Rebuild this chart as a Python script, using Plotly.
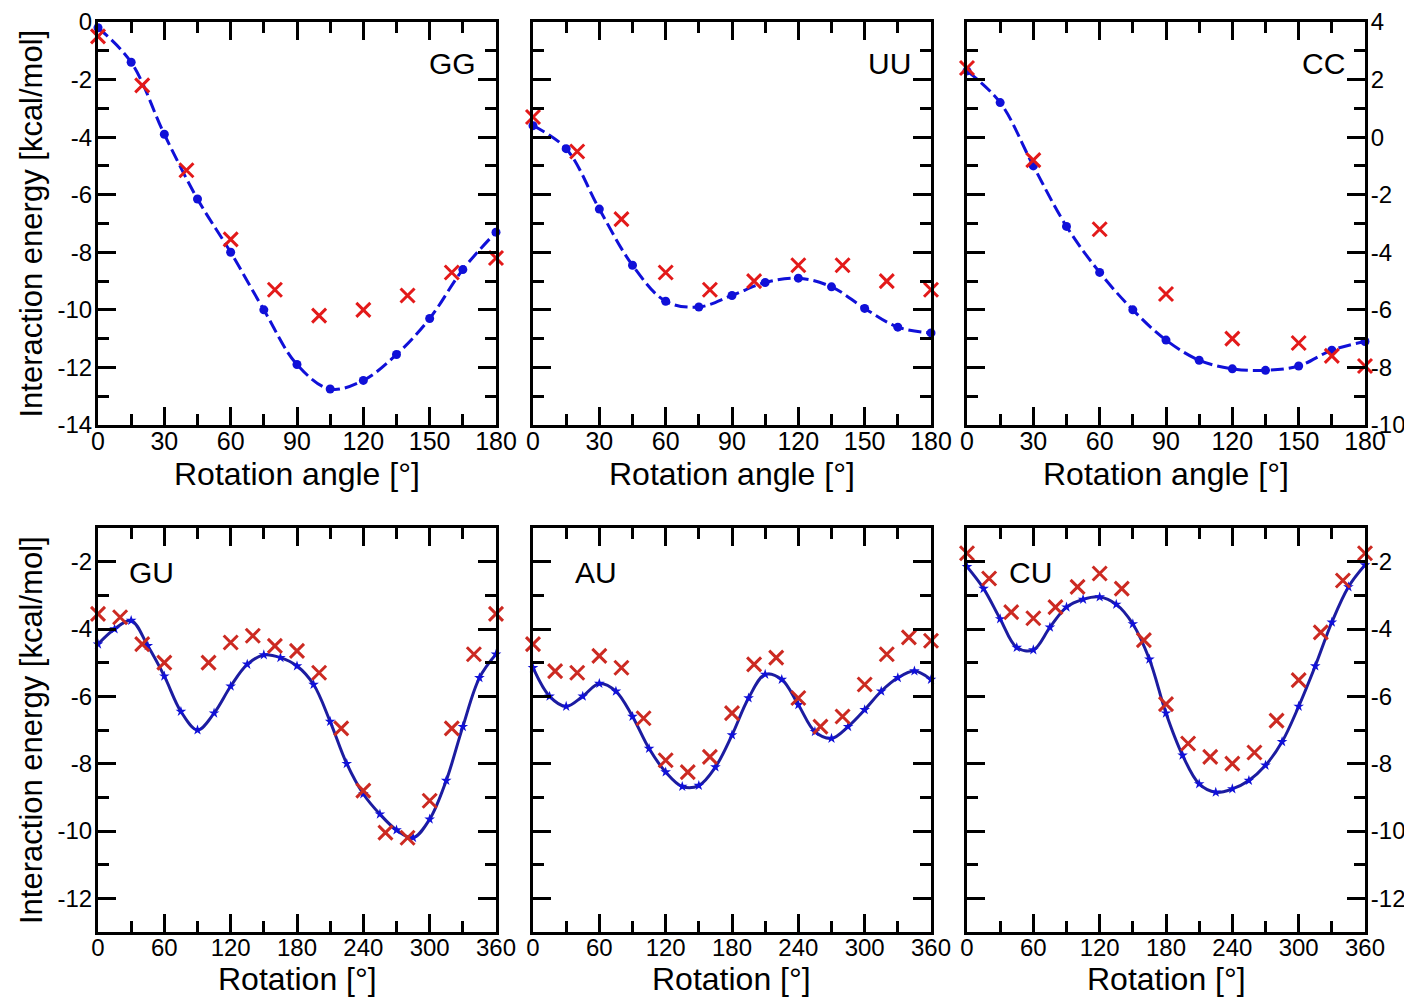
import plotly.graph_objects as go

W, H = 1412, 997
OFF = 8  # the page body margin shifts the figure by 8 px

# ---------------- data ----------------
# top row: rotation angle 0..180
top_blue_x = [0, 15, 30, 45, 60, 75, 90, 105, 120, 135, 150, 165, 180]
GG_blue = [-0.2, -1.4, -3.9, -6.15, -8.0, -10.0, -11.9, -12.75, -12.45, -11.55, -10.3, -8.6, -7.3]
UU_blue = [-3.6, -4.4, -6.5, -8.45, -9.7, -9.9, -9.5, -9.05, -8.9, -9.2, -9.95, -10.6, -10.8]
CC_blue = [2.3, 1.2, -1.0, -3.1, -4.7, -6.0, -7.05, -7.75, -8.05, -8.1, -7.95, -7.4, -7.1]

top_red_x = [0, 20, 40, 60, 80, 100, 120, 140, 160, 180]
GG_red = [-0.5, -2.2, -5.15, -7.55, -9.3, -10.2, -10.0, -9.5, -8.7, -8.2]
UU_red = [-3.3, -4.5, -6.85, -8.7, -9.3, -9.0, -8.45, -8.45, -9.0, -9.3]
CC_red_x = [0, 30, 60, 90, 120, 150, 165, 180]
CC_red = [2.4, -0.8, -3.2, -5.45, -7.0, -7.15, -7.6, -7.95]

# bottom row: rotation 0..360
bot_blue_x = list(range(0, 361, 15))
GU_blue = [-4.45, -4.0, -3.75, -4.5, -5.4, -6.45, -7.0, -6.5, -5.7, -5.05, -4.77, -4.85, -5.1,
           -5.65, -6.75, -8.0, -8.9, -9.5, -9.97, -10.2, -9.65, -8.5, -6.9, -5.45, -4.75]
AU_blue = [-5.15, -6.0, -6.3, -6.0, -5.62, -5.85, -6.6, -7.55, -8.25, -8.68, -8.65, -8.1, -7.15,
           -6.05, -5.35, -5.5, -6.25, -7.05, -7.25, -6.9, -6.4, -5.85, -5.45, -5.25, -5.5]
CU_blue = [-2.15, -2.8, -3.7, -4.55, -4.62, -3.95, -3.35, -3.12, -3.05, -3.27, -3.85, -4.9, -6.5,
           -7.75, -8.6, -8.85, -8.75, -8.5, -8.05, -7.35, -6.3, -5.1, -3.8, -2.75, -2.1]

GU_red_x = [0, 20, 40, 60, 100, 120, 140, 160, 180, 200, 220, 240, 260, 280, 300, 320, 340, 360]
GU_red = [-3.55, -3.65, -4.45, -5.0, -5.0, -4.4, -4.2, -4.5, -4.65, -5.3, -6.95, -8.8, -10.05,
          -10.2, -9.1, -6.95, -4.75, -3.55]
bot_red_x = list(range(0, 361, 20))
AU_red = [-4.45, -5.25, -5.3, -4.8, -5.15, -6.65, -7.9, -8.25, -7.8, -6.5, -5.05, -4.85, -6.05,
          -6.9, -6.6, -5.65, -4.75, -4.25, -4.35]
CU_red = [-1.75, -2.5, -3.5, -3.68, -3.35, -2.75, -2.35, -2.8, -4.33, -6.23, -7.4, -7.8, -8.0,
          -7.67, -6.72, -5.52, -4.1, -2.56, -1.75]

top_xticks = [0, 30, 60, 90, 120, 150, 180]
bot_xticks = [0, 60, 120, 180, 240, 300, 360]
top_yticks_left = [0, -2, -4, -6, -8, -10, -12, -14]
top_yticks_right = [4, 2, 0, -2, -4, -6, -8, -10]
bot_yticks = [-2, -4, -6, -8, -10, -12]

# ---------------- styling ----------------
BLUE = "#1010d8"
NAVY = "#1c1ca0"
RED_TOP = "#e31a1a"
RED_BOT = "#cc2a22"
FONT = "Liberation Sans, Arial, sans-serif"

# panel frames in screen pixels (reference), converted to figure pixels below
cols_px = [(98, 496), (533, 931), (967, 1365)]
rows_px = [(22, 425), (528, 932)]


def fx(px):
    return (px - OFF) / W


def fy(py):
    return 1 - (py - OFF) / H


def lbl(v):
    return str(v)  # plain hyphen-minus, as in the reference


panels = [
    dict(name="GG", row=0, col=0, bx=top_blue_x, by=GG_blue, rx=top_red_x, ry=GG_red),
    dict(name="UU", row=0, col=1, bx=top_blue_x, by=UU_blue, rx=top_red_x, ry=UU_red),
    dict(name="CC", row=0, col=2, bx=top_blue_x, by=CC_blue, rx=CC_red_x, ry=CC_red),
    dict(name="GU", row=1, col=0, bx=bot_blue_x, by=GU_blue, rx=GU_red_x, ry=GU_red),
    dict(name="AU", row=1, col=1, bx=bot_blue_x, by=AU_blue, rx=bot_red_x, ry=AU_red),
    dict(name="CU", row=1, col=2, bx=bot_blue_x, by=CU_blue, rx=bot_red_x, ry=CU_red),
]

fig = go.Figure()
annotations = []
layout_axes = {}

for i, p in enumerate(panels, start=1):
    xs = "x" if i == 1 else f"x{i}"
    ys = "y" if i == 1 else f"y{i}"
    x0, x1 = cols_px[p["col"]]
    y0, y1 = rows_px[p["row"]]
    xdom = [fx(x0), fx(x1)]
    ydom = [fy(y1), fy(y0)]
    top = p["row"] == 0

    if top:
        fig.add_trace(go.Scatter(
            x=p["bx"], y=p["by"], xaxis=xs, yaxis=ys, mode="lines+markers",
            line=dict(color=BLUE, width=3, dash="13px,5px", shape="spline", smoothing=1.0),
            marker=dict(size=9, color=BLUE), cliponaxis=False, showlegend=False))
        red = RED_TOP
    else:
        fig.add_trace(go.Scatter(
            x=p["bx"], y=p["by"], xaxis=xs, yaxis=ys, mode="lines+markers",
            line=dict(color=NAVY, width=3, shape="spline", smoothing=1.0),
            marker=dict(size=8, color=BLUE, symbol="star"), cliponaxis=False, showlegend=False))
        red = RED_BOT
    fig.add_trace(go.Scatter(
        x=p["rx"], y=p["ry"], xaxis=xs, yaxis=ys, mode="markers",
        marker=dict(symbol="x-thin", size=14, line=dict(color=red, width=3)),
        cliponaxis=False, showlegend=False))

    common = dict(showline=True, linecolor="black", linewidth=3, mirror="ticks",
                  ticks="inside", ticklen=18, tickwidth=3, tickcolor="black",
                  showgrid=False, zeroline=False, automargin=False, fixedrange=True)
    minor = dict(ticks="inside", ticklen=11, tickwidth=3, tickcolor="black", tick0=0, showgrid=False)
    xax = dict(common, domain=xdom, anchor=ys, ticklabelstandoff=-8,
               tickfont=dict(size=25 if top else 24, color="black", family=FONT))
    yax = dict(common, domain=ydom, anchor=xs, ticklabelstandoff=-2,
               tickfont=dict(size=24, color="black", family=FONT))
    if top:
        xax.update(range=[0, 180], tickvals=top_xticks, ticktext=[lbl(v) for v in top_xticks],
                   minor=dict(minor, dtick=15))
        if p["col"] == 2:
            yax.update(range=[-10, 4], tickvals=top_yticks_right,
                       ticktext=[lbl(v) for v in top_yticks_right], side="right")
        else:
            yax.update(range=[-14, 0], tickvals=top_yticks_left,
                       ticktext=[lbl(v) for v in top_yticks_left])
    else:
        xax.update(range=[0, 360], tickvals=bot_xticks, ticktext=[lbl(v) for v in bot_xticks],
                   minor=dict(minor, dtick=30))
        yax.update(range=[-13, -1], tickvals=bot_yticks, ticktext=[lbl(v) for v in bot_yticks],
                   side="right" if p["col"] == 2 else "left")
    yax["minor"] = dict(minor, dtick=1)
    if p["col"] == 1:
        yax["showticklabels"] = False
    layout_axes["xaxis" if i == 1 else f"xaxis{i}"] = xax
    layout_axes["yaxis" if i == 1 else f"yaxis{i}"] = yax

    # panel label
    if top:
        annotations.append(dict(text=p["name"], xref=f"{xs} domain", yref=f"{ys} domain",
                                x=1, y=0.898, xanchor="right", yanchor="middle", xshift=-18,
                                showarrow=False, font=dict(size=30, color="black", family=FONT)))
    else:
        shift = 29 if p["col"] == 0 else 40
        annotations.append(dict(text=p["name"], xref=f"{xs} domain", yref=f"{ys} domain",
                                x=0, y=0.891, xanchor="left", yanchor="middle", xshift=shift,
                                showarrow=False, font=dict(size=30, color="black", family=FONT)))
    # x axis title
    annotations.append(dict(text="Rotation angle [°]" if top else "Rotation [°]",
                            xref="paper", yref="paper", x=fx((x0 + x1) / 2),
                            y=fy(474 if top else 979), xanchor="center", yanchor="middle",
                            showarrow=False,
                            font=dict(size=32, color="black", family=FONT)))
    # y axis title
    if p["col"] == 0:
        annotations.append(dict(text="Interaction energy [kcal/mol]", xref="paper", yref="paper",
                                x=fx(31), y=fy((y0 + y1) / 2), textangle=-90,
                                xanchor="center", yanchor="middle", showarrow=False,
                                font=dict(size=31, color="black", family=FONT)))

fig.update_layout(
    width=W, height=H, margin=dict(l=0, r=0, t=0, b=0, autoexpand=False),
    paper_bgcolor="white", plot_bgcolor="white",
    font=dict(family=FONT, color="black"),
    annotations=annotations, showlegend=False, **layout_axes)

fig.write_html("out.html", config={"displayModeBar": False})
